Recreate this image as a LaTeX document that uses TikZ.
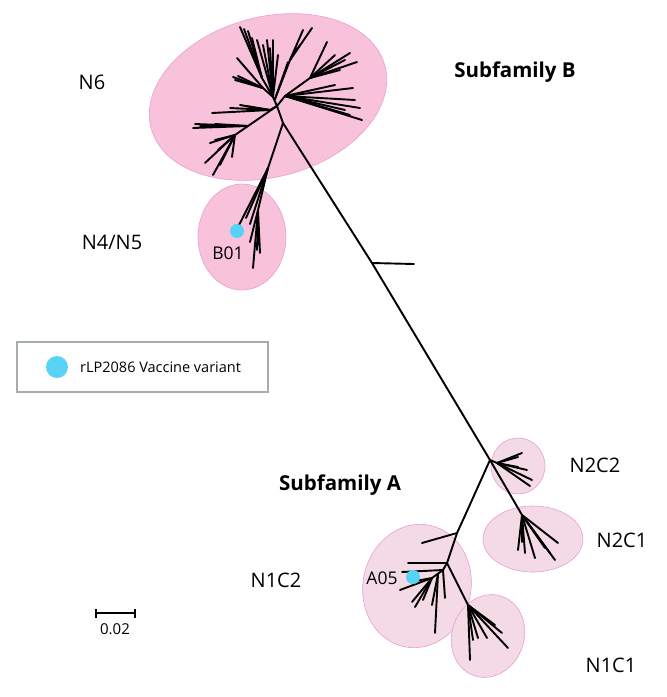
\documentclass[tikz,border=0pt]{standalone}
\usepackage{fontspec}
\setmainfont{Open Sans}
\definecolor{pinkA}{HTML}{F8C2DA}
\definecolor{pinkB}{HTML}{F3DAE4}
\definecolor{pinkE}{HTML}{E79ED6}
\definecolor{dotc}{HTML}{58D2F5}
\definecolor{legc}{HTML}{A6ADAD}
\tikzset{
  br/.style={line width=1.9pt, black, line cap=round, line join=round},
  cladeA/.style={fill=pinkA, draw=pinkE, line width=0.6pt},
  cladeB/.style={fill=pinkB, draw=pinkE, line width=0.6pt},
  lab/.style={font=\fontsize{20}{22}\selectfont, inner sep=0pt},
  big/.style={font=\fontsize{20.5}{23}\selectfont\bfseries, inner sep=0pt},
  vdot/.style={circle, fill=dotc, inner sep=0pt, minimum size=14pt}
}
\begin{document}
\begin{tikzpicture}[x=1pt,y=-1pt]
\useasboundingbox (0,0) rectangle (667,697);
% clade ellipses
\begin{scope}[shift={(268,97)},rotate=15]
  \path[cladeA] (0,0) ellipse [x radius=121pt, y radius=80pt];
\end{scope}
\path[cladeA] (242,237) ellipse [x radius=44pt, y radius=53pt];
\path[cladeB] (518,466) ellipse [x radius=27pt, y radius=28pt];
\path[cladeB] (533,539) ellipse [x radius=50pt, y radius=33pt];
\begin{scope}[shift={(417,586)},rotate=-12]
  \path[cladeB] (0,0) ellipse [x radius=54pt, y radius=62pt];
\end{scope}
\begin{scope}[shift={(488,636)},rotate=-20]
  \path[cladeB] (0,0) ellipse [x radius=36pt, y radius=42pt];
\end{scope}

% backbone
\coordinate (H) at (277,106);
\coordinate (R) at (283,123);
\coordinate (S) at (372,263);
\coordinate (J) at (490,460);
\draw[br] (H) -- (R) -- (S) -- (J);
\draw[br] (S) -- (414,264);

% N6 upper fan
\draw[br] (H) -- (273,97);
\draw[br] (273,97) -- (262,78);
\foreach \p in {(240,27),(244,29),(248,31),(252,38)}
  \draw[br] (262,78) -- \p;
\foreach \p in {(257,40),(263,45),(267,40),(273,40),(278,55),(270,48)}
  \draw[br] (273,97) -- \p;
\draw[br] (275,99) -- (290,60);
\foreach \p in {(303,30),(312,28),(300,45),(296,48)}
  \draw[br] (290,60) -- \p;
\draw[br] (275,99) -- (288,62);
\draw[br] (273,97) -- (263,88);
\foreach \p in {(233,77),(235,80),(237,58),(245,82),(238,76)}
  \draw[br] (263,88) -- \p;
% N6 right fan
\draw[br] (H) -- (285,96);
\draw[br] (285,96) -- (310,78);
\foreach \p in {(327,42),(350,53),(357,62),(340,70),(345,60),(335,55)}
  \draw[br] (310,78) -- \p;
\foreach \p in {(353,88),(335,85),(360,108),(362,120),(345,110),(355,100),(350,115)}
  \draw[br] (285,96) -- \p;
% N6 left
\draw[br] (H) -- (270,110);
\foreach \p in {(212,113),(240,105),(230,108),(245,106)}
  \draw[br] (270,110) -- \p;
\draw[br] (H) -- (248,126) -- (235,135) -- (205,163);
\foreach \p in {(193,128),(195,124),(215,124),(200,126)}
  \draw[br] (248,126) -- \p;
\foreach \p in {(210,143),(215,140),(213,175),(232,157),(220,165),(218,150)}
  \draw[br] (235,135) -- \p;

% N4/N5
\draw[br] (R) -- (268,168);
\foreach \p in {(237,229),(246,218),(250,224)}
  \draw[br] (268,168) -- \p;
\draw[br] (268,168) -- (258,210);
\foreach \p in {(250,242),(258,245),(260,253),(253,268),(257,250)}
  \draw[br] (258,210) -- \p;

% N2C2
\draw[br] (J) -- (497,463);
\foreach \p in {(522,453),(518,457),(527,470),(532,480),(530,486),(518,467)}
  \draw[br] (497,463) -- \p;
% N2C1
\draw[br] (J) -- (522,515);
\foreach \p in {(518,550),(525,553),(535,558),(550,553),(555,560),(558,543),(522,542),(545,548)}
  \draw[br] (522,515) -- \p;

% Subfamily A
\coordinate (A1) at (457,533);
\coordinate (A2) at (447,563);
\coordinate (C1) at (468,605);
\draw[br] (J) -- (463,520) -- (A1) -- (A2);
\draw[br] (A1) -- (422,543);
\draw[br] (A2) -- (408,563);
\draw[br] (A2) -- (C1);
\foreach \p in {(470,660),(478,638),(487,638),(508,648),(502,633),(495,625),(473,640)}
  \draw[br] (C1) -- \p;
\draw[br] (A2) -- (443,570) -- (432,578);
\draw[br] (443,570) -- (402,572);
\foreach \p in {(400,590),(410,582),(412,602),(415,607),(423,600)}
  \draw[br] (432,578) -- \p;
\draw[br] (443,570) -- (445,598);
\draw[br] (438,574) -- (435,633);
\draw[br] (438,574) -- (432,605);

% vaccine dots
\node[vdot] (b01dot) at (237,231) {};
\node[vdot] (a05dot) at (413,577) {};
\node[lab, font=\fontsize{17.5}{19}\selectfont] (b01) at (228,253) {B01};
\node[lab, font=\fontsize{17.5}{19}\selectfont] (a05) at (382,578) {A05};

% labels
\node[lab] (n6) at (92,82) {N6};
\node[lab] (n45) at (112,242) {N4/N5};
\node[big] (sb) at (515,72) {Subfamily B};
\node[big] (sa) at (340,485) {Subfamily A};
\node[lab] (n2c2) at (595,465) {N2C2};
\node[lab] (n2c1) at (622,540) {N2C1};
\node[lab] (n1c2) at (276,580) {N1C2};
\node[lab] (n1c1) at (611,665) {N1C1};

% legend
\node[draw=legc, line width=2.5pt, minimum width=251pt, minimum height=50pt, inner sep=0pt] (leg) at (142.5,367) {};
\node[circle, fill=dotc, inner sep=0pt, minimum size=22pt] (legdot) at (57,367) {};
\node[anchor=west, inner sep=0pt, font=\fontsize{14.5}{16}\selectfont] (legtxt) at (80,367) {rLP2086 Vaccine variant};

% scale bar
\coordinate (s1) at (96,613);
\coordinate (s2) at (135,613);
\draw[line width=1.9pt] (s1) -- (s2);
\draw[line width=1.9pt] ([yshift=4.5pt]s1) -- ([yshift=-4.5pt]s1);
\draw[line width=1.9pt] ([yshift=4.5pt]s2) -- ([yshift=-4.5pt]s2);
\node[inner sep=0pt, font=\fontsize{15}{17}\selectfont] (scl) at (115,629) {0.02};
\end{tikzpicture}
\end{document}
